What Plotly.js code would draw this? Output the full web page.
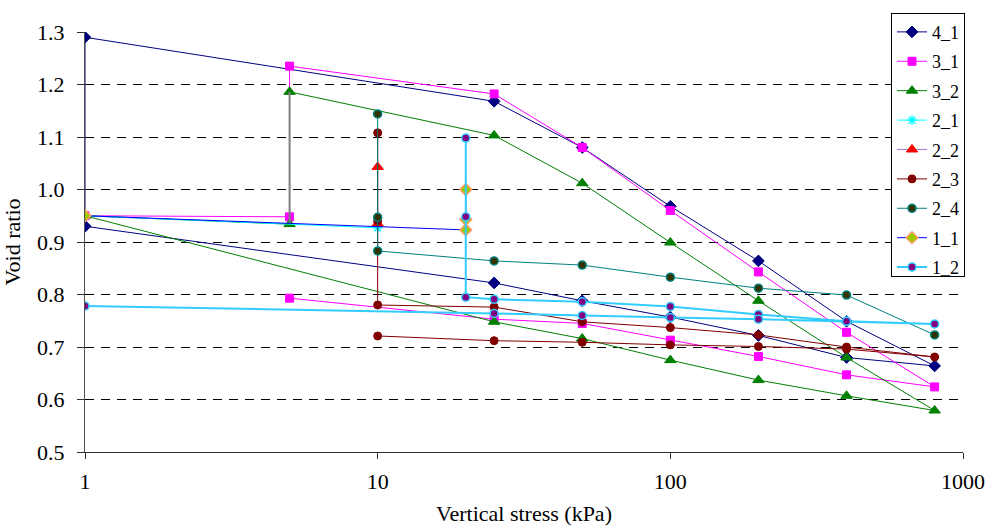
<!DOCTYPE html>
<html>
<head>
<meta charset="utf-8">
<script src="https://cdn.plot.ly/plotly-3.0.1.min.js"></script>
<style>html,body{margin:0;padding:0;background:#fff;}#chart{width:986px;height:528px;}</style>
</head>
<body>
<div id="chart"></div>
<script>
var seriesNames = ["4_1", "3_1", "3_2", "2_1", "2_2", "2_3", "2_4", "1_1", "1_2"];

var x_4_1 = [1, 1, 25, 50, 100, 200, 400, 800, 400, 200, 100, 50, 25, 1];
var y_4_1 = [0.930, 1.290, 1.168, 1.080, 0.968, 0.864, 0.749, 0.664, 0.680, 0.722, 0.757, 0.788, 0.822, 0.930];
var x_3_1 = [1, 5, 5, 25, 50, 100, 200, 400, 800, 400, 200, 100, 50, 25, 5];
var y_3_1 = [0.950, 0.948, 1.235, 1.182, 1.080, 0.960, 0.843, 0.728, 0.624, 0.647, 0.682, 0.713, 0.745, 0.753, 0.793];
var x_3_2 = [5, 25, 50, 100, 200, 400, 800, 400, 200, 100, 50, 25, 1, 5];
var y_3_2 = [1.186, 1.103, 1.012, 0.899, 0.788, 0.680, 0.579, 0.607, 0.637, 0.675, 0.716, 0.748, 0.950, 0.934];
var x_2_1 = [1, 10];
var y_2_1 = [0.950, 0.927];
var x_2_2 = [10, 10];
var y_2_2 = [1.043, 0.935];
var x_2_3 = [10, 10, 10, 25, 50, 100, 200, 400, 800, 400, 200, 100, 50, 25, 10];
var y_2_3 = [1.108, 0.940, 0.780, 0.776, 0.748, 0.737, 0.723, 0.700, 0.681, 0.696, 0.701, 0.704, 0.709, 0.712, 0.721];
var x_2_4 = [10, 10, 10, 25, 50, 100, 200, 400, 800];
var y_2_4 = [1.144, 0.947, 0.883, 0.864, 0.856, 0.833, 0.812, 0.799, 0.723];
var x_1_1 = [1, 20, 20, 20];
var y_1_1 = [0.950, 0.923, 0.943, 1.000];
var x_1_2 = [20, 20, 20, 25, 50, 100, 200, 400, 800, 400, 200, 100, 50, 25, 1];
var y_1_2 = [1.098, 0.948, 0.795, 0.791, 0.786, 0.777, 0.762, 0.749, 0.744, 0.749, 0.753, 0.756, 0.760, 0.764, 0.778];

var xTickVals = [1, 10, 100, 1000];
var xTickText = ["1", "10", "100", "1000"];
var yTickVals = [0.5, 0.6, 0.7, 0.8, 0.9, 1.0, 1.1, 1.2, 1.3];

var serif = "Times New Roman";

function tr(i, xs, ys, lineCol, lineW, sym, size, fill, mlineCol, mlineW) {
  return {
    type: "scatter", mode: "lines+markers", name: seriesNames[i], legendgroup: seriesNames[i],
    x: xs, y: ys,
    line: {color: lineCol, width: lineW},
    marker: {symbol: sym, size: size, color: fill, line: {color: mlineCol, width: mlineW}}
  };
}

var traces = [
  tr(0, x_4_1, y_4_1, "#000080", 1, "diamond", 9, "#000080", "#000080", 1),
  tr(1, x_3_1, y_3_1, "#FF00FF", 1, "square", 8, "#FF00FF", "#FF00FF", 1),
  tr(2, x_3_2, y_3_2, "#008000", 1, "triangle-up", 10, "#008000", "#008000", 1),
  {
    type: "scatter", mode: "lines", showlegend: false, hoverinfo: "skip",
    x: [x_3_2[x_3_2.length - 1], x_3_2[0]],
    y: [y_3_2[y_3_2.length - 1], y_3_2[0]],
    line: {color: "#808080", width: 2}
  },
  tr(3, x_2_1, y_2_1, "#00FFFF", 1, "asterisk-open", 8, "#00FFFF", "#00FFFF", 1.5),
  tr(4, x_2_2, y_2_2, "#A878C8", 1, "triangle-up", 10, "#FF0000", "#FF0000", 1),
  tr(5, x_2_3, y_2_3, "#800000", 1, "circle", 8, "#800000", "#800000", 1),
  tr(6, x_2_4, y_2_4, "#008080", 1, "circle", 8, "#333300", "#008080", 1.5),
  tr(7, x_1_1, y_1_1, "#0000FF", 1, "diamond", 9, "#99CC00", "#FF9966", 1.5),
  tr(8, x_1_2, y_1_2, "#33CCFF", 2, "circle", 8, "#800080", "#33CCFF", 1.5)
];

var layout = {
  width: 986, height: 528,
  margin: {l: 85, r: 23, t: 32, b: 76},
  paper_bgcolor: "#ffffff", plot_bgcolor: "#ffffff",
  font: {family: serif, size: 22, color: "#000000"},
  showlegend: true,
  legend: {
    x: 0.918, y: 1.046, xanchor: "left", yanchor: "top",
    bgcolor: "#ffffff", bordercolor: "#000000", borderwidth: 1,
    font: {family: serif, size: 18, color: "#000000"},
    tracegroupgap: 3, itemwidth: 30
  },
  xaxis: {
    type: "log", range: [0, 3],
    tickvals: xTickVals, ticktext: xTickText,
    showgrid: false, zeroline: false,
    showline: true, linecolor: "#303030", linewidth: 1,
    ticks: "outside", ticklen: 6, tickcolor: "#303030",
    ticklabelstandoff: 4,
    tickfont: {family: serif, size: 22, color: "#000000"},
    title: {text: "Vertical stress (kPa)", font: {family: serif, size: 22, color: "#000000"}, standoff: 12},
    automargin: false
  },
  yaxis: {
    range: [0.5, 1.3], tickvals: yTickVals, tickformat: ".1f",
    showgrid: true, gridcolor: "#000000", gridwidth: 1, griddash: "9px,7px",
    zeroline: false,
    showline: true, linecolor: "#505050", linewidth: 1,
    ticks: "outside", ticklen: 7, tickcolor: "#303030",
    ticklabelstandoff: 8,
    tickfont: {family: serif, size: 22, color: "#000000"},
    title: {text: "Void ratio", font: {family: serif, size: 22, color: "#000000"}, standoff: 10},
    automargin: false
  }
};

Plotly.newPlot("chart", traces, layout, {displayModeBar: false, staticPlot: true});
</script>
</body>
</html>
